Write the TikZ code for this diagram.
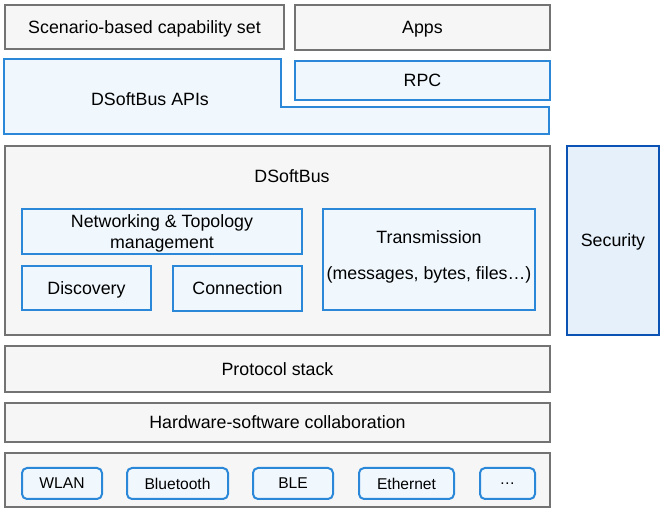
\documentclass[tikz,border=0pt]{standalone}
\usepackage{fontspec}
\setmainfont{Liberation Sans}
\definecolor{bordegris}{HTML}{737373}
\definecolor{fondogris}{HTML}{F6F6F6}
\definecolor{bordeazul}{HTML}{2B88D8}
\definecolor{fondoazul}{HTML}{F0F8FE}
\definecolor{bordeseg}{HTML}{0A52B4}
\definecolor{fondoseg}{HTML}{E5F0FA}
\begin{document}
\begin{tikzpicture}[x=1pt, y=-1pt,
	texto/.style={font=\fontsize{17.8}{21}\selectfont, align=center, text depth=0pt},
	caja/.style={texto, draw=bordegris, fill=fondogris, line width=2pt, inner sep=0pt, anchor=north west},
	modulo/.style={caja, draw=bordeazul, fill=fondoazul},
	enlace/.style={modulo, rounded corners=5pt, minimum height=31, font=\fontsize{15.6}{18}\selectfont}]
	\useasboundingbox (0,0) rectangle (662,510);
	
	% Capa superior
		\node[caja, minimum width=279, minimum height=44] (escenario) at (4,4) {Scenario-based capability set};
		\node[caja, minimum width=255, minimum height=45] (apps) at (294,4) {Apps};
		
	% APIs
		\draw[draw=bordeazul, fill=fondoazul, line width=2pt] (4,59) -- (281,59) -- (281,107) -- (549,107) -- (549,134) -- (4,134) -- cycle;
		\node[texto] (apis) at (150,99) {DSoftBus APIs};
		\node[modulo, minimum width=255, minimum height=39] (rpc) at (294,60) {RPC};
	
	% Bus
		\node[caja, minimum width=545, minimum height=189] (bus) at (4,145) {};
		\node[texto] (titulobus) at (292,176) {DSoftBus};
		% Modulos del bus
			\node[modulo, minimum width=280, minimum height=45] (red) at (21,208) {Networking \& Topology\\management};
			\node[modulo, minimum width=129, minimum height=44] (descubrimiento) at (21,265) {Discovery};
			\node[modulo, minimum width=129, minimum height=45] (conexion) at (172,265) {Connection};
			\node[modulo, minimum width=212, minimum height=101, text depth=9pt] (transmision) at (322,208) {Transmission\\[15pt](messages, bytes, files…)};
	
	% Seguridad
		\node[caja, draw=bordeseg, fill=fondoseg, minimum width=92, minimum height=189] (seguridad) at (566,145) {Security};
	
	% Capas inferiores
		\node[caja, minimum width=545, minimum height=46] (protocolo) at (4,345) {Protocol stack};
		\node[caja, minimum width=545, minimum height=39] (hardware) at (4,402) {Hardware-software collaboration};
		\node[caja, minimum width=545, minimum height=54] (enlaces) at (4,452) {};
		
	% Enlaces
		\node[enlace, minimum width=80] (wlan) at (21,467) {WLAN};
		\node[enlace, minimum width=101] (bluetooth) at (126,467) {Bluetooth};
		\node[enlace, minimum width=80] (ble) at (252,467) {BLE};
		\node[enlace, minimum width=95] (ethernet) at (358,467) {Ethernet};
		\node[enlace, minimum width=55] (otros) at (479,467) {…};
\end{tikzpicture}
\end{document}
